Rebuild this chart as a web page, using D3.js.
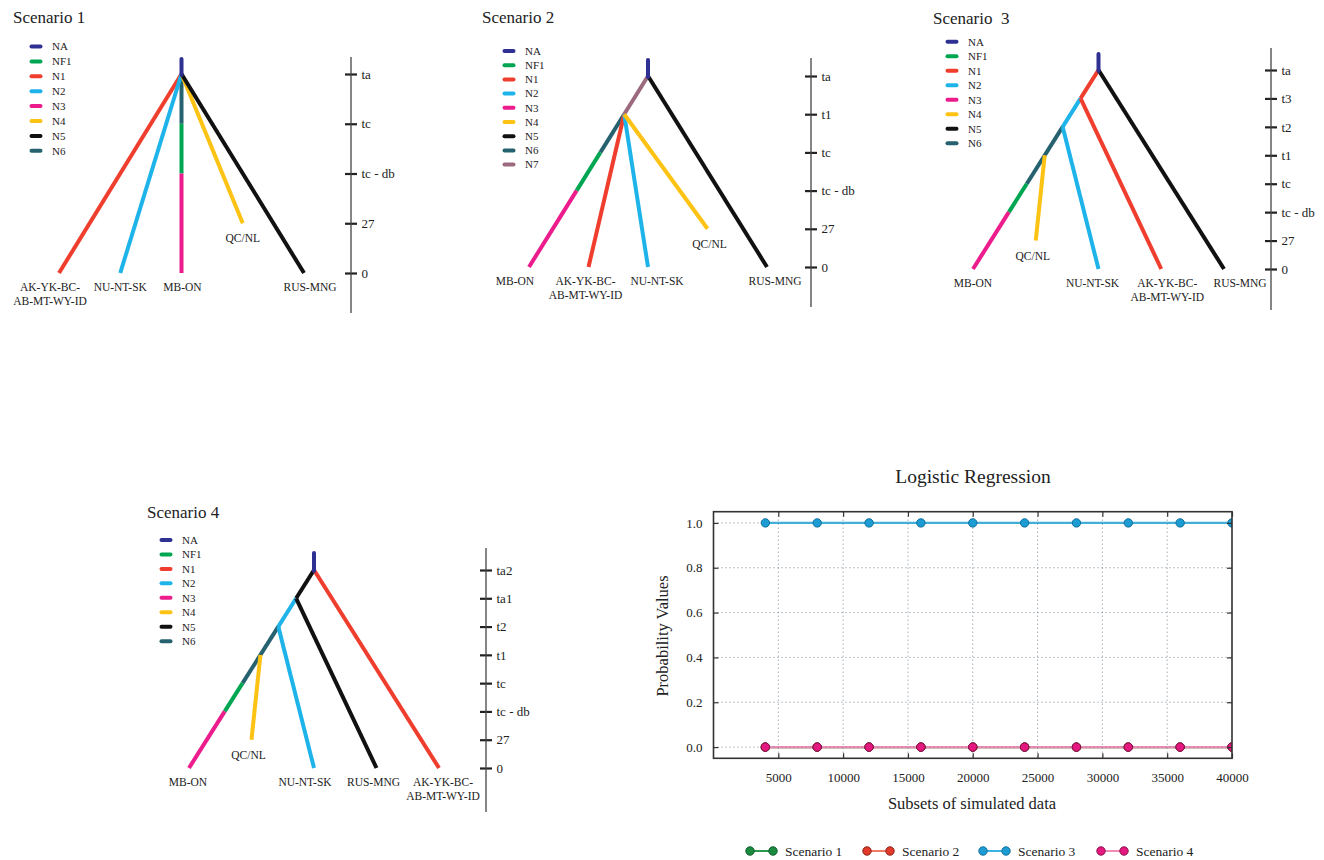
<!DOCTYPE html>
<html><head><meta charset="utf-8">
<script src="https://cdn.jsdelivr.net/npm/d3@7"></script>
<style>
html,body{margin:0;padding:0;background:#fff;}
svg{display:block;}
text{font-family:"Liberation Serif","Times New Roman",serif;fill:#222;}
</style></head><body>
<svg id="chart" width="1324" height="860"></svg>
<script>
// ---------------- DATA ----------------
const popColors = {NA:"#2e3192", NF1:"#00a651", N1:"#ef3e2d", N2:"#1fb4e9", N3:"#ec1c8c",
                   N4:"#fcc214", N5:"#111111", N6:"#25616f", N7:"#9c6a7f"};

// Scenario 1
const s1Times   = ["ta","tc","tc - db","27","0"];
const s1Leaves  = ["AK-YK-BC-|AB-MT-WY-ID","NU-NT-SK","MB-ON","QC/NL","RUS-MNG"];
const s1Samples = ["0","0","0","27","0"];
const s1SpineLeaf = 2;
const s1Pops = ["NA","NF1","N1","N2","N3","N4","N5","N6"];
// [population, start time (on spine), end time, target leaf (null = spine)]
const s1Branches = [
  ["N6","ta","tc",null],["NF1","tc","tc - db",null],["N3","tc - db","0",null],
  ["N1","ta","0",0],["N2","ta","0",1],["N4","ta","27",3],["N5","ta","0",4]
];

// Scenario 2
const s2Times   = ["ta","t1","tc","tc - db","27","0"];
const s2Leaves  = ["MB-ON","AK-YK-BC-|AB-MT-WY-ID","NU-NT-SK","QC/NL","RUS-MNG"];
const s2Samples = ["0","0","0","27","0"];
const s2SpineLeaf = 0;
const s2Pops = ["NA","NF1","N1","N2","N3","N4","N5","N6","N7"];
const s2Branches = [
  ["N7","ta","t1",null],["N6","t1","tc",null],["NF1","tc","tc - db",null],["N3","tc - db","0",null],
  ["N1","t1","0",1],["N2","t1","0",2],["N4","t1","27",3],["N5","ta","0",4]
];

// Scenario 3
const s3Times   = ["ta","t3","t2","t1","tc","tc - db","27","0"];
const s3Leaves  = ["MB-ON","QC/NL","NU-NT-SK","AK-YK-BC-|AB-MT-WY-ID","RUS-MNG"];
const s3Samples = ["0","27","0","0","0"];
const s3SpineLeaf = 0;
const s3Pops = ["NA","NF1","N1","N2","N3","N4","N5","N6"];
const s3Branches = [
  ["N1","ta","t3",null],["N2","t3","t2",null],["N6","t2","tc",null],["NF1","tc","tc - db",null],["N3","tc - db","0",null],
  ["N4","t1","27",1],["N2","t2","0",2],["N1","t3","0",3],["N5","ta","0",4]
];

// Scenario 4
const s4Times   = ["ta2","ta1","t2","t1","tc","tc - db","27","0"];
const s4Leaves  = ["MB-ON","QC/NL","NU-NT-SK","RUS-MNG","AK-YK-BC-|AB-MT-WY-ID"];
const s4Samples = ["0","27","0","0","0"];
const s4SpineLeaf = 0;
const s4Pops = ["NA","NF1","N1","N2","N3","N4","N5","N6"];
const s4Branches = [
  ["N5","ta2","ta1",null],["N2","ta1","t2",null],["N6","t2","tc",null],["NF1","tc","tc - db",null],["N3","tc - db","0",null],
  ["N4","t1","27",1],["N2","t2","0",2],["N5","ta1","0",3],["N1","ta2","0",4]
];

// Logistic regression
const subsetSizes  = [4000,8000,12000,16000,20000,24000,28000,32000,36000,40000];
const scenario1Prob = [0,0,0,0,0,0,0,0,0,0];
const scenario2Prob = [0,0,0,0,0,0,0,0,0,0];
const scenario3Prob = [1,1,1,1,1,1,1,1,1,1];
const scenario4Prob = [0,0,0,0,0,0,0,0,0,0];
const xTickValues = [5000,10000,15000,20000,25000,30000,35000,40000];
const yTickValues = [0,0.2,0.4,0.6,0.8,1.0];
const seriesNames = ["Scenario 1","Scenario 2","Scenario 3","Scenario 4"];

// ---------------- LAYOUT ----------------
const svg = d3.select("#chart");

const treeLayouts = [
  {title:"Scenario 1", tx:13, ty:23, lx:30, ly:46.5, ls:14.9, leafX:[59,304], timeY:[74,273],
   ax:351, aTop:57, aBot:313, stub:59, nudge:[-9,0,1,0,6]},
  {title:"Scenario 2", tx:482, ty:23, lx:503, ly:51, ls:14.2, leafX:[529,767], timeY:[76,267],
   ax:811, aTop:58, aBot:307, stub:60, nudge:[-14,-3,9,2,8]},
  {title:"Scenario  3", tx:933, ty:24, lx:946, ly:41.7, ls:14.5, leafX:[973,1224], timeY:[70,269],
   ax:1271, aTop:48, aBot:310, stub:54, nudge:[0,-3,-6,6,16]},
  {title:"Scenario 4", tx:147, ty:518, lx:160, ly:540, ls:14.45, leafX:[189,439], timeY:[570,768],
   ax:486, aTop:548, aBot:812, stub:553, nudge:[-1,-3,-9,-3,4]}
];
const treeData = [
  {times:s1Times, leaves:s1Leaves, samples:s1Samples, spine:s1SpineLeaf, pops:s1Pops, branches:s1Branches},
  {times:s2Times, leaves:s2Leaves, samples:s2Samples, spine:s2SpineLeaf, pops:s2Pops, branches:s2Branches},
  {times:s3Times, leaves:s3Leaves, samples:s3Samples, spine:s3SpineLeaf, pops:s3Pops, branches:s3Branches},
  {times:s4Times, leaves:s4Leaves, samples:s4Samples, spine:s4SpineLeaf, pops:s4Pops, branches:s4Branches}
];

function drawTree(L, D) {
  const g = svg.append("g");
  const xs = d3.scalePoint().domain(d3.range(D.leaves.length)).range(L.leafX);
  const ys = d3.scalePoint().domain(D.times).range(L.timeY);
  const rootIdx = Math.floor(D.leaves.length / 2);
  const rootX = xs(rootIdx), rootY = ys(D.times[0]);
  const spineEndX = xs(D.spine), spineEndY = ys(D.samples[D.spine]);
  const spineX = t => rootX + (spineEndX - rootX) * (ys(t) - rootY) / (spineEndY - rootY);

  // title
  g.append("text").attr("x", L.tx).attr("y", L.ty).attr("font-size", 17)
    .style("white-space", "pre").attr("xml:space","preserve").text(L.title);

  // legend
  const lg = g.selectAll(".lg").data(D.pops).enter().append("g")
    .attr("transform", (d,i) => `translate(${L.lx},${L.ly + i*L.ls})`);
  lg.append("line").attr("x1", 1.5).attr("x2", 10.5).attr("y1", 0).attr("y2", 0)
    .attr("stroke", d => popColors[d]).attr("stroke-width", 4).attr("stroke-linecap","round");
  lg.append("text").attr("x", 22).attr("y", 0).attr("dy","0.35em").attr("font-size", 11).text(d => d);

  // time axis
  const axis = d3.axisRight(ys).tickSize(6).tickPadding(5);
  const ag = g.append("g").attr("transform", `translate(${L.ax},0)`).call(axis);
  ag.select(".domain").remove();
  ag.selectAll(".tick line").attr("x1", -6).attr("x2", 6).attr("stroke", "#222").attr("stroke-width", 2.2);
  ag.selectAll(".tick text").attr("font-family", '"Liberation Serif",serif').attr("font-size", 13)
    .attr("fill", "#222").attr("x", 10.5);
  ag.append("line").attr("x1",0).attr("x2",0).attr("y1", L.aTop).attr("y2", L.aBot)
    .attr("stroke","#444").attr("stroke-width",1.3);

  // branches
  const segs = D.branches.map(b => {
    const [pop, t0, t1, leaf] = b;
    const x1 = spineX(t0), y1 = ys(t0);
    let x2, y2;
    if (leaf === null) { x2 = spineX(t1); y2 = ys(t1); }
    else { x2 = xs(leaf); y2 = ys(D.samples[leaf]); }
    return {pop, x1, y1, x2, y2};
  });
  g.selectAll(".br").data(segs).enter().append("line")
    .attr("x1", d => d.x1).attr("y1", d => d.y1).attr("x2", d => d.x2).attr("y2", d => d.y2)
    .attr("stroke", d => popColors[d.pop]).attr("stroke-width", 4).attr("stroke-linecap","butt");
  // root stub (NA)
  g.append("line").attr("x1", rootX).attr("x2", rootX).attr("y1", L.stub).attr("y2", rootY + 1)
    .attr("stroke", popColors.NA).attr("stroke-width", 4).attr("stroke-linecap","round");

  // leaf labels
  D.leaves.forEach((name, i) => {
    const lines = name.split("|");
    const sample = D.samples[i];
    const by = ys(sample) + (sample === "0" ? 18 : 19);
    const t = g.append("text").attr("text-anchor","middle").attr("font-size", 11.5)
      .attr("x", xs(i) + L.nudge[i]).attr("y", by);
    lines.forEach((ln, k) => {
      t.append("tspan").attr("x", xs(i) + L.nudge[i]).attr("dy", k === 0 ? 0 : 13.5).text(ln);
    });
  });
}
treeLayouts.forEach((L, i) => drawTree(L, treeData[i]));

// ---------------- LOGISTIC REGRESSION ----------------
const x = d3.scaleLinear().domain([0, 40000]).range([713.5, 1232]);
const y = d3.scaleLinear().domain([-0.05, 1.05]).range([758.3, 511.7]);
const lg2 = svg.append("g");

lg2.append("text").attr("x", 973).attr("y", 483).attr("text-anchor","middle").attr("font-size", 19.5)
  .text("Logistic Regression");

svg.append("clipPath").attr("id","plotclip").append("rect")
  .attr("x", x(0)).attr("y", y(1.05)).attr("width", x(40000)-x(0)).attr("height", y(-0.05)-y(1.05));

const plot = lg2.append("g").attr("clip-path","url(#plotclip)");

const seriesColors = [
  {line:"#2b9a4c", fill:"#1b8c3f", stroke:"#0f5a28"},
  {line:"#f07a62", fill:"#e23a2a", stroke:"#8a2016"},
  {line:"#3db3e4", fill:"#1d9cd4", stroke:"#0f6f9c"},
  {line:"#f08cb6", fill:"#e4197f", stroke:"#8c1150"}
];
const seriesVals = [scenario1Prob, scenario2Prob, scenario3Prob, scenario4Prob];

const lineGen = d3.line().x(d => x(d[0])).y(d => y(d[1]));
seriesVals.forEach((vals, s) => {
  const pts = subsetSizes.map((v, i) => [v, vals[i]]);
  plot.append("path").datum(pts).attr("d", lineGen).attr("fill","none")
    .attr("stroke", seriesColors[s].line).attr("stroke-width", 2.2);
});

// grid
plot.selectAll(".vg").data(xTickValues).enter().append("line")
  .attr("x1", d => x(d)).attr("x2", d => x(d)).attr("y1", y(1.05)).attr("y2", y(-0.05))
  .attr("stroke","#7a8a95").attr("stroke-width",1).attr("stroke-dasharray","1,3");
plot.selectAll(".hg").data(yTickValues).enter().append("line")
  .attr("x1", x(0)).attr("x2", x(40000)).attr("y1", d => y(d)).attr("y2", d => y(d))
  .attr("stroke","#7a8a95").attr("stroke-width",1).attr("stroke-dasharray","1,3");

seriesVals.forEach((vals, s) => {
  const pts = subsetSizes.map((v, i) => [v, vals[i]]);
  plot.selectAll(".pt" + s).data(pts).enter().append("circle")
    .attr("cx", d => x(d[0])).attr("cy", d => y(d[1])).attr("r", 4.2)
    .attr("fill", seriesColors[s].fill).attr("stroke", seriesColors[s].stroke).attr("stroke-width", 1);
});

// axes
const axB = lg2.append("g").attr("transform", `translate(0,${y(-0.05)})`)
  .call(d3.axisBottom(x).tickValues(xTickValues).tickSize(-5).tickPadding(14).tickFormat(d3.format("d")));
const axL = lg2.append("g").attr("transform", `translate(${x(0)},0)`)
  .call(d3.axisLeft(y).tickValues(yTickValues).tickSize(-5).tickPadding(11).tickFormat(d3.format(".1f")));
const axT = lg2.append("g").attr("transform", `translate(0,${y(1.05)})`)
  .call(d3.axisTop(x).tickValues(xTickValues).tickSize(-5).tickFormat(""));
const axR = lg2.append("g").attr("transform", `translate(${x(40000)},0)`)
  .call(d3.axisRight(y).tickValues(yTickValues).tickSize(-5).tickFormat(""));
[axB, axL, axT, axR].forEach(a => {
  a.select(".domain").remove();
  a.selectAll(".tick line").attr("stroke","#333").attr("stroke-width",1.2);
  a.selectAll(".tick text").attr("font-family",'"Liberation Sans",Arial,sans-serif')
    .attr("font-size",13).attr("fill","#333");
});
lg2.append("rect").attr("x", x(0)).attr("y", y(1.05)).attr("width", x(40000)-x(0))
  .attr("height", y(-0.05)-y(1.05)).attr("fill","none").attr("stroke","#333").attr("stroke-width",1.6);

lg2.append("text").attr("x", 972).attr("y", 809).attr("text-anchor","middle").attr("font-size", 16.5)
  .text("Subsets of simulated data");
lg2.append("text").attr("transform","translate(668,636) rotate(-90)").attr("text-anchor","middle")
  .attr("font-size", 16.5).text("Probability Values");

// legend
const legX = [750, 867, 983, 1101];
seriesNames.forEach((nm, s) => {
  const gx = lg2.append("g").attr("transform", `translate(${legX[s]},851)`);
  gx.append("line").attr("x1",0).attr("x2",23).attr("y1",0).attr("y2",0)
    .attr("stroke", seriesColors[s].line).attr("stroke-width",2);
  [0,23].forEach(cx => gx.append("circle").attr("cx",cx).attr("cy",0).attr("r",4.2)
    .attr("fill", seriesColors[s].fill).attr("stroke", seriesColors[s].stroke).attr("stroke-width",1));
  gx.append("text").attr("x",35).attr("y",0).attr("dy","0.35em").attr("font-size",13.5).text(nm);
});
</script>
</body></html>
